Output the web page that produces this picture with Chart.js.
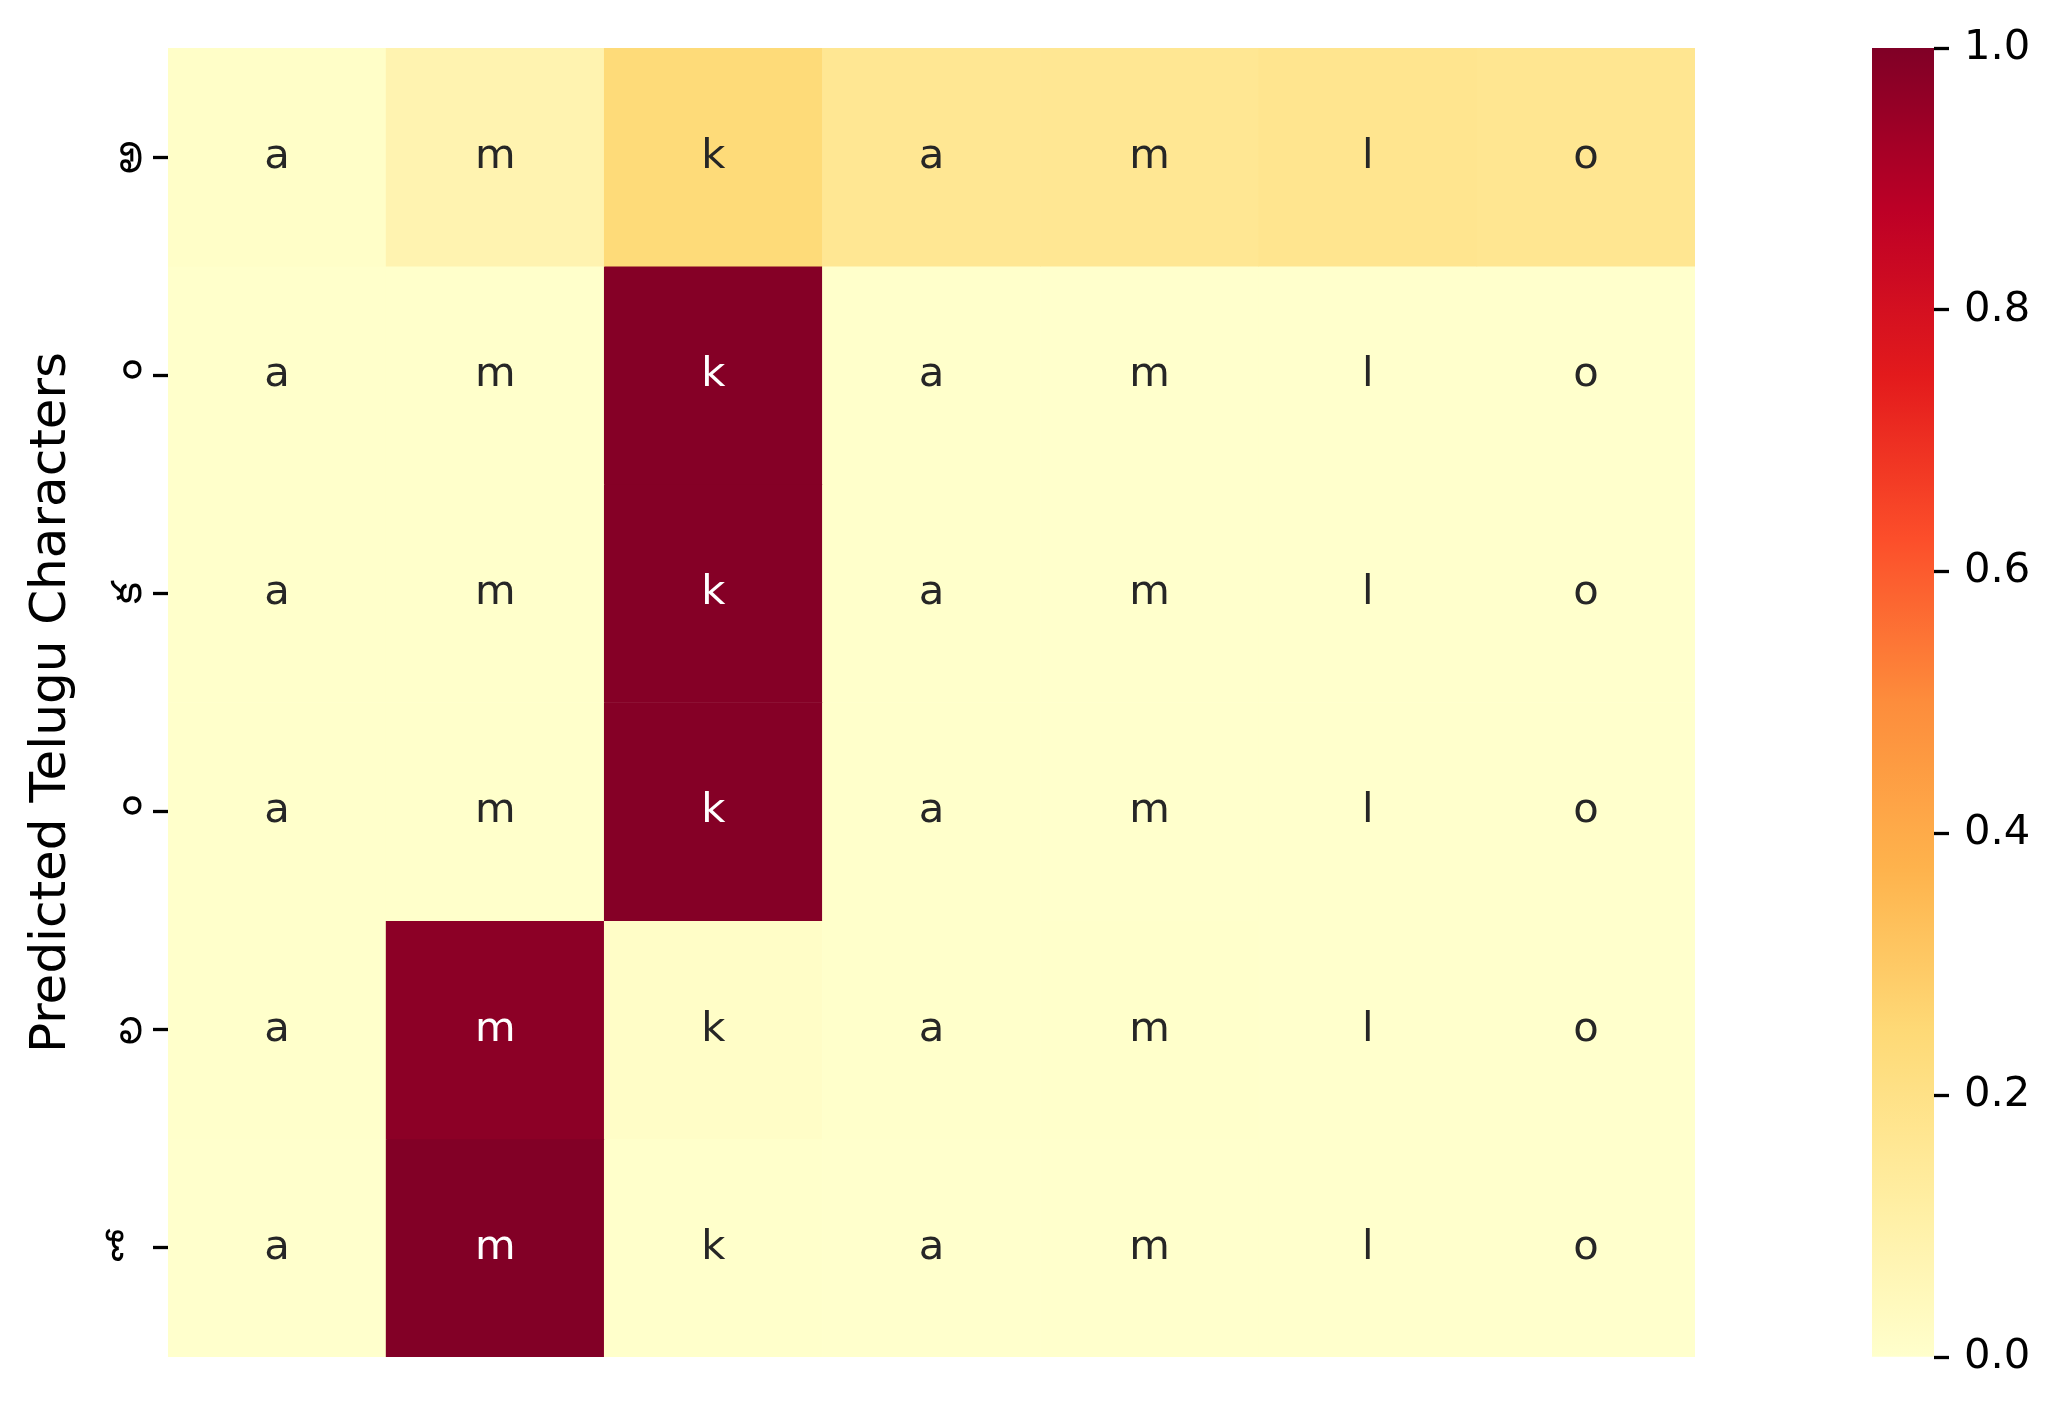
<!DOCTYPE html>
<html>
<head>
<meta charset="utf-8">
<script src="https://cdn.jsdelivr.net/npm/chart.js@4.4.1/dist/chart.umd.min.js"></script>
<style>
  body { margin: 0; background: #ffffff; }
  #wrap { position: relative; width: 2060px; height: 1410px; background: #ffffff; }
  #heat { position: absolute; left: 0; top: 0; }
  #cbar { position: absolute; left: 1872px; top: 0; }
</style>
</head>
<body>
<div id="wrap">
  <canvas id="heat" width="1710" height="1410"></canvas>
  <canvas id="cbar" width="188" height="1410"></canvas>
</div>
<script>
// input characters (cell annotations) and predicted Telugu characters (rows)
const inputChars = ['a', 'm', 'k', 'a', 'm', 'l', 'o'];
// NBSP in front of the signs so no dotted circle is drawn
const predictedChars = ['అ', '\u00A0ం', 'క', '\u00A0ం', 'ల', '\u00A0ో'];

// attention weights, one array per predicted character
const rowA  = [0.010, 0.080, 0.240, 0.165, 0.165, 0.175, 0.170];
const rowM1 = [0.002, 0.003, 0.990, 0.002, 0.001, 0.001, 0.001];
const rowK  = [0.002, 0.003, 0.990, 0.002, 0.001, 0.001, 0.001];
const rowM2 = [0.002, 0.003, 0.990, 0.002, 0.001, 0.001, 0.001];
const rowL  = [0.003, 0.975, 0.015, 0.003, 0.002, 0.001, 0.001];
const rowO  = [0.001, 0.995, 0.002, 0.001, 0.000, 0.000, 0.001];
const rows = [rowA, rowM1, rowK, rowM2, rowL, rowO];

const cbarTicks = [0, 0.2, 0.4, 0.6, 0.8, 1.0];

// YlOrRd colour map (9 anchors)
const ylorrd = ['#ffffcc', '#ffeda0', '#fed976', '#feb24c', '#fd8d3c', '#fc4e2a', '#e31a1c', '#bd0026', '#800026'];

function hexToRgb(h) {
  return [parseInt(h.slice(1, 3), 16), parseInt(h.slice(3, 5), 16), parseInt(h.slice(5, 7), 16)];
}
function cmap(v) {
  v = Math.min(1, Math.max(0, v));
  const pos = v * (ylorrd.length - 1);
  const i = Math.min(Math.floor(pos), ylorrd.length - 2);
  const f = pos - i;
  const a = hexToRgb(ylorrd[i]), b = hexToRgb(ylorrd[i + 1]);
  const c = a.map((x, k) => Math.round(x + (b[k] - x) * f));
  return 'rgb(' + c.join(',') + ')';
}

const FONT = '"DejaVu Sans", sans-serif';

// letters written in the middle of each cell
const cellText = {
  id: 'cellText',
  afterDatasetsDraw(chart) {
    const c = chart.ctx;
    c.save();
    c.font = '41.7px ' + FONT;
    c.textAlign = 'center';
    c.textBaseline = 'middle';
    chart.data.datasets.forEach((ds, i) => {
      chart.getDatasetMeta(i).data.forEach((bar, j) => {
        c.fillStyle = rows[i][j] > 0.5 ? '#ffffff' : '#262626';
        c.fillText(inputChars[j], bar.x, (bar.y + bar.base) / 2);
      });
    });
    c.restore();
  }
};

const heatData = {
  labels: inputChars,
  datasets: rows.map((vals, i) => ({
    label: predictedChars[i],
    data: vals.map(() => [i, i + 1]),
    backgroundColor: vals.map(cmap),
    borderWidth: 0,
    grouped: false,
    categoryPercentage: 1,
    barPercentage: 1
  }))
};

new Chart(document.getElementById('heat'), {
  type: 'bar',
  data: heatData,
  plugins: [cellText],
  options: {
    responsive: false,
    devicePixelRatio: 1,
    animation: false,
    layout: { padding: { left: 0, right: 15, top: 48, bottom: 53 } },
    plugins: { legend: { display: false }, tooltip: { enabled: false } },
    scales: {
      x: { display: false },
      y: {
        min: 0,
        max: rows.length,
        reverse: true,
        afterBuildTicks: (s) => { s.ticks = predictedChars.map((_, i) => ({ value: i + 0.5 })); },
        afterFit: (s) => { s.width = 168; },
        ticks: {
          autoSkip: false,
          minRotation: 90,
          maxRotation: 90,
          crossAlign: 'center',
          padding: 6,
          color: '#000000',
          font: { family: FONT, size: 41.7 },
          callback: (v) => predictedChars[Math.floor(v)]
        },
        grid: { drawOnChartArea: false, tickLength: 15, tickWidth: 3.3, tickColor: '#000000' },
        border: { display: false },
        title: {
          display: true,
          text: 'Predicted Telugu Characters',
          color: '#000000',
          font: { family: FONT, size: 50 },
          padding: { top: 22, bottom: 0 }
        }
      }
    }
  }
});

// colour bar
new Chart(document.getElementById('cbar'), {
  type: 'bar',
  data: {
    labels: [''],
    datasets: [{
      data: [[0, 1]],
      backgroundColor: (ctx) => {
        const y = ctx.chart.scales.y;
        if (!ctx.chart.chartArea || !y) return ylorrd[0];
        const y0 = y.getPixelForValue(0), y1 = y.getPixelForValue(1);
        if (!Number.isFinite(y0) || !Number.isFinite(y1)) return ylorrd[0];
        const g = ctx.chart.ctx.createLinearGradient(0, y0, 0, y1);
        for (let k = 0; k <= 40; k++) g.addColorStop(k / 40, cmap(k / 40));
        return g;
      },
      borderWidth: 0,
      categoryPercentage: 1,
      barPercentage: 1
    }]
  },
  options: {
    responsive: false,
    devicePixelRatio: 1,
    animation: false,
    layout: { padding: { left: 0, right: 0, top: 48, bottom: 53 } },
    plugins: { legend: { display: false }, tooltip: { enabled: false } },
    scales: {
      x: { display: false },
      y: {
        position: 'right',
        min: 0,
        max: 1,
        afterBuildTicks: (s) => { s.ticks = cbarTicks.map((v) => ({ value: v })); },
        afterFit: (s) => { s.width = 126; },
        ticks: {
          padding: 15,
          color: '#000000',
          font: { family: FONT, size: 41.7 },
          callback: (v) => v.toFixed(1)
        },
        grid: { drawOnChartArea: false, tickLength: 15, tickWidth: 3.3, tickColor: '#000000' },
        border: { display: false }
      }
    }
  }
});
</script>
</body>
</html>
